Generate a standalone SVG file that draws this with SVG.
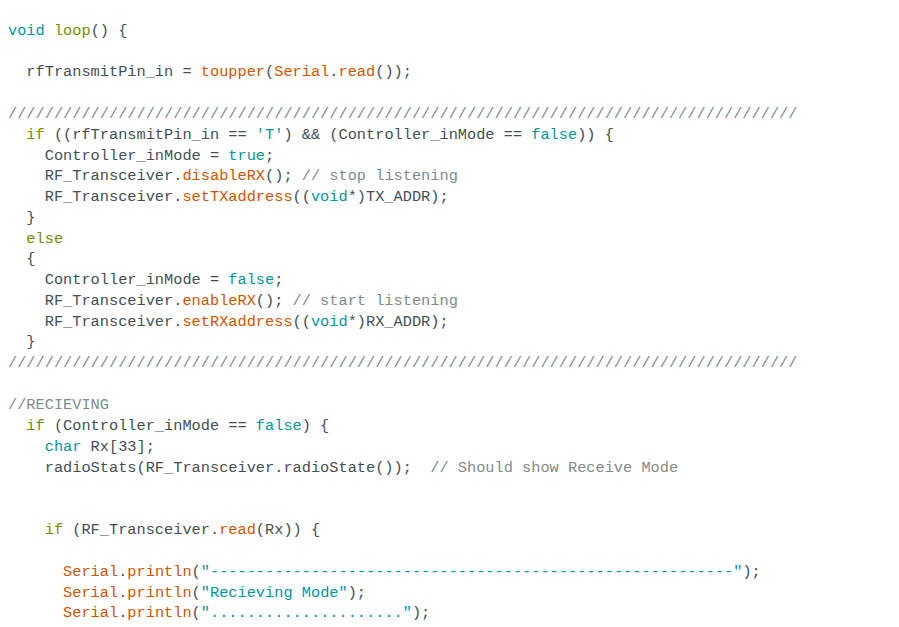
<svg xmlns="http://www.w3.org/2000/svg" width="899" height="627" viewBox="0 0 899 627">
<style>
text{font-family:"Liberation Mono","DejaVu Sans Mono",monospace;font-size:15.3px;fill:#434f54;white-space:pre}
.k{fill:#00979c}.c{fill:#728e00}.f{fill:#d35400}.m{fill:#7f8c8d}
</style>
<rect width="899" height="627" fill="#fff"/>
<g id="code" xml:space="preserve">
<text x="8" y="35"><tspan class="k">void</tspan> <tspan class="c">loop</tspan>() {</text>
<text x="8" y="76">  rfTransmitPin_in = <tspan class="f">toupper</tspan>(<tspan class="f">Serial</tspan>.<tspan class="f">read</tspan>());</text>
<text x="8" y="118" class="m">//////////////////////////////////////////////////////////////////////////////////////</text>
<text x="8" y="139">  <tspan class="c">if</tspan> ((rfTransmitPin_in == <tspan class="k">'T'</tspan>) &amp;&amp; (Controller_inMode == <tspan class="k">false</tspan>)) {</text>
<text x="8" y="160">    Controller_inMode = <tspan class="k">true</tspan>;</text>
<text x="8" y="180">    RF_Transceiver.<tspan class="f">disableRX</tspan>(); <tspan class="m">// stop listening</tspan></text>
<text x="8" y="201">    RF_Transceiver.<tspan class="f">setTXaddress</tspan>((<tspan class="k">void</tspan>*)TX_ADDR);</text>
<text x="8" y="222">  }</text>
<text x="8" y="243">  <tspan class="c">else</tspan></text>
<text x="8" y="263">  {</text>
<text x="8" y="284">    Controller_inMode = <tspan class="k">false</tspan>;</text>
<text x="8" y="305">    RF_Transceiver.<tspan class="f">enableRX</tspan>(); <tspan class="m">// start listening</tspan></text>
<text x="8" y="326">    RF_Transceiver.<tspan class="f">setRXaddress</tspan>((<tspan class="k">void</tspan>*)RX_ADDR);</text>
<text x="8" y="346">  }</text>
<text x="8" y="367" class="m">//////////////////////////////////////////////////////////////////////////////////////</text>
<text x="8" y="409" class="m">//RECIEVING</text>
<text x="8" y="430">  <tspan class="c">if</tspan> (Controller_inMode == <tspan class="k">false</tspan>) {</text>
<text x="8" y="451">    <tspan class="k">char</tspan> Rx[33];</text>
<text x="8" y="472">    radioStats(RF_Transceiver.radioState());  <tspan class="m">// Should show Receive Mode</tspan></text>
<text x="8" y="534">    <tspan class="c">if</tspan> (RF_Transceiver.<tspan class="f">read</tspan>(Rx)) {</text>
<text x="8" y="576">      <tspan class="f">Serial</tspan>.<tspan class="f">println</tspan>(<tspan class="k">"---------------------------------------------------------"</tspan>);</text>
<text x="8" y="597">      <tspan class="f">Serial</tspan>.<tspan class="f">println</tspan>(<tspan class="k">"Recieving Mode"</tspan>);</text>
<text x="8" y="617">      <tspan class="f">Serial</tspan>.<tspan class="f">println</tspan>(<tspan class="k">"....................."</tspan>);</text>
</g>
</svg>
